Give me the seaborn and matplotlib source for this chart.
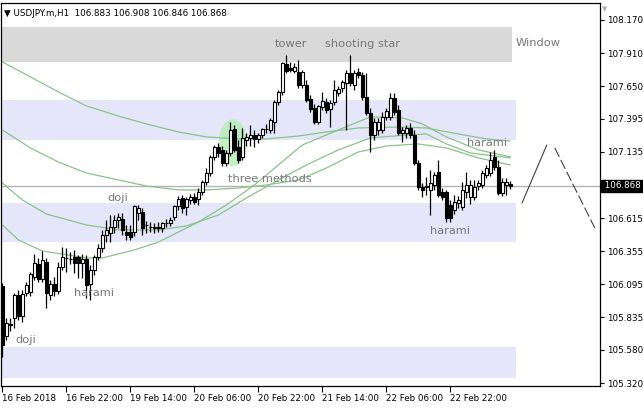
import matplotlib
matplotlib.use("Agg")
import matplotlib.pyplot as plt
import matplotlib.transforms as mtransforms
from matplotlib.patches import Ellipse
import numpy as np
import seaborn as sns

# hourly candles, USDJPY H1, 16 Feb 2018 06:00 onwards
opens = [106.082, 105.689, 105.776, 105.831, 106.011, 105.846, 106.027, 106.035, 106.153, 106.255,
         106.137, 106.270, 106.011, 106.098, 106.043, 106.231, 106.304, 106.296, 106.310, 106.310,
         106.262, 106.294, 106.098, 106.208, 106.310, 106.380, 106.482, 106.498, 106.545, 106.600,
         106.608, 106.506, 106.506, 106.506, 106.655, 106.663, 106.561, 106.545, 106.545, 106.537,
         106.537, 106.576, 106.576, 106.624, 106.710, 106.773, 106.702, 106.757, 106.781, 106.765,
         106.820, 106.898, 106.969, 107.095, 107.173, 107.150, 107.047, 107.126, 107.314, 107.173,
         107.095, 107.228, 107.244, 107.267, 107.236, 107.267, 107.314, 107.307, 107.369, 107.526,
         107.605, 107.825, 107.793, 107.770, 107.762, 107.660, 107.660, 107.550, 107.479, 107.369,
         107.487, 107.526, 107.471, 107.526, 107.597, 107.636, 107.675, 107.754, 107.660, 107.762,
         107.738, 107.566, 107.440, 107.267, 107.307, 107.307, 107.409, 107.409, 107.558, 107.464,
         107.283, 107.283, 107.322, 107.267, 107.047, 106.859, 106.859, 106.836, 106.875, 106.977,
         106.820, 106.820, 106.718, 106.679, 106.733, 106.702, 106.820, 106.781, 106.781, 106.867,
         106.875, 106.953, 106.969, 107.095, 107.016, 106.812, 106.875, 106.883]
highs = [106.105, 105.831, 105.831, 106.027, 106.051, 106.051, 106.113, 106.192, 106.333, 106.302,
         106.357, 106.302, 106.129, 106.153, 106.270, 106.388, 106.380, 106.349, 106.365, 106.325,
         106.333, 106.325, 106.247, 106.325, 106.412, 106.522, 106.600, 106.639, 106.639, 106.655,
         106.655, 106.561, 106.561, 106.718, 106.718, 106.694, 106.592, 106.584, 106.576, 106.584,
         106.584, 106.608, 106.624, 106.718, 106.788, 106.796, 106.781, 106.804, 106.812, 106.851,
         106.914, 107.008, 107.110, 107.189, 107.204, 107.181, 107.150, 107.369, 107.346, 107.228,
         107.322, 107.283, 107.346, 107.307, 107.283, 107.322, 107.354, 107.401, 107.542, 107.621,
         107.840, 107.895, 107.840, 107.832, 107.856, 107.778, 107.699, 107.581, 107.511, 107.503,
         107.605, 107.558, 107.542, 107.699, 107.652, 107.699, 107.778, 107.895, 107.778, 107.793,
         107.762, 107.754, 107.479, 107.401, 107.401, 107.448, 107.479, 107.597, 107.597, 107.503,
         107.330, 107.346, 107.361, 107.307, 107.071, 106.890, 106.938, 106.993, 106.977, 107.071,
         106.851, 106.836, 106.757, 106.796, 106.788, 106.898, 106.977, 106.914, 106.914, 106.914,
         106.993, 107.032, 107.134, 107.150, 107.071, 106.930, 106.930, 106.908]
lows = [105.525, 105.658, 105.729, 105.752, 105.815, 105.799, 106.003, 106.003, 106.129, 106.113,
        106.113, 105.909, 105.972, 106.003, 106.019, 106.208, 106.192, 106.255, 106.184, 106.145,
        106.145, 105.988, 105.972, 106.168, 106.286, 106.349, 106.427, 106.427, 106.498, 106.537,
        106.482, 106.443, 106.443, 106.474, 106.600, 106.482, 106.498, 106.506, 106.498, 106.506,
        106.506, 106.545, 106.553, 106.600, 106.679, 106.655, 106.639, 106.726, 106.726, 106.718,
        106.796, 106.875, 106.945, 107.071, 107.095, 107.024, 107.024, 107.102, 107.134, 107.047,
        107.071, 107.181, 107.181, 107.173, 107.204, 107.244, 107.283, 107.283, 107.283, 107.503,
        107.581, 107.754, 107.762, 107.754, 107.636, 107.636, 107.526, 107.448, 107.354, 107.354,
        107.464, 107.440, 107.330, 107.503, 107.573, 107.605, 107.307, 107.652, 107.621, 107.715,
        107.542, 107.424, 107.134, 107.228, 107.267, 107.283, 107.385, 107.385, 107.424, 107.267,
        107.212, 107.244, 107.244, 107.032, 106.836, 106.781, 106.796, 106.639, 106.836, 106.781,
        106.757, 106.584, 106.584, 106.647, 106.694, 106.679, 106.773, 106.726, 106.757, 106.836,
        106.851, 106.930, 106.945, 106.993, 106.796, 106.788, 106.796, 106.846]
closes = [105.619, 105.791, 105.784, 106.011, 105.846, 106.019, 106.090, 106.176, 106.262, 106.137,
          106.286, 106.027, 106.098, 106.043, 106.231, 106.310, 106.302, 106.294, 106.262, 106.262,
          106.294, 106.090, 106.208, 106.310, 106.380, 106.482, 106.522, 106.545, 106.600, 106.624,
          106.522, 106.482, 106.467, 106.710, 106.694, 106.537, 106.559, 106.543, 106.537, 106.545,
          106.576, 106.578, 106.600, 106.710, 106.765, 106.694, 106.765, 106.781, 106.741, 106.820,
          106.898, 106.969, 107.095, 107.173, 107.126, 107.047, 107.126, 107.307, 107.150, 107.071,
          107.244, 107.252, 107.267, 107.236, 107.267, 107.314, 107.316, 107.385, 107.526, 107.605,
          107.832, 107.770, 107.778, 107.801, 107.660, 107.762, 107.542, 107.471, 107.369, 107.495,
          107.534, 107.464, 107.518, 107.621, 107.628, 107.683, 107.754, 107.675, 107.754, 107.738,
          107.566, 107.440, 107.267, 107.369, 107.369, 107.409, 107.456, 107.558, 107.448, 107.283,
          107.307, 107.322, 107.267, 107.047, 106.859, 106.836, 106.867, 106.890, 106.953, 106.796,
          106.781, 106.616, 106.616, 106.741, 106.757, 106.836, 106.875, 106.875, 106.859, 106.890,
          106.969, 107.008, 107.071, 107.016, 106.812, 106.898, 106.898, 106.868]

time_label_bars = [0, 16, 32, 48, 64, 80, 96, 112]
time_labels = ["16 Feb 2018", "16 Feb 22:00", "19 Feb 14:00", "20 Feb 06:00",
               "20 Feb 22:00", "21 Feb 14:00", "22 Feb 06:00", "22 Feb 22:00"]
price_ticks = [108.170, 107.910, 107.650, 107.395, 107.135, 106.615,
               106.355, 106.095, 105.835, 105.580, 105.320]
last_price = 106.868
title_text = "\u25bc USDJPY.m,H1  106.883 106.908 106.846 106.868"

# moving averages at a few bars
ma_a_bars = [0, 7, 14, 21, 29, 36, 44, 51, 59, 66, 74, 81, 89, 99, 106, 114, 121, 127]
ma_a = [107.840, 107.723, 107.605, 107.495, 107.416, 107.354, 107.291, 107.252, 107.236,
        107.236, 107.259, 107.291, 107.322, 107.330, 107.322, 107.275, 107.236, 107.220]
ma_b_bars = [0, 7, 14, 21, 29, 36, 44, 51, 59, 66, 74, 81, 89, 96, 104, 111, 119, 127]
ma_b = [107.307, 107.165, 107.055, 106.969, 106.914, 106.867, 106.836, 106.836, 106.851,
        106.875, 106.914, 107.008, 107.134, 107.181, 107.197, 107.165, 107.087, 107.032]
ma_c_bars = [0, 5, 11, 21, 29, 39, 46, 54, 61, 69, 76, 84, 92, 101, 106, 111, 117, 127]
ma_c = [106.890, 106.757, 106.647, 106.561, 106.522, 106.522, 106.553, 106.639, 106.773,
        106.914, 107.032, 107.150, 107.244, 107.267, 107.275, 107.197, 107.126, 107.087]
ma_d_bars = [0, 4, 10, 21, 25, 33, 39, 49, 56, 63, 69, 75, 84, 92, 100, 105, 111, 119, 127]
ma_d = [106.561, 106.443, 106.357, 106.302, 106.302, 106.365, 106.427, 106.584, 106.718,
        106.875, 107.032, 107.189, 107.307, 107.409, 107.401, 107.354, 107.252, 107.150, 107.095]

# price zones (top, bottom, last bar)
window_zone = (108.115, 107.840, 127)
blue_zones_top = [107.542, 106.733, 105.603]
blue_zones_bottom = [107.228, 106.427, 105.360]
blue_zone_end = 128

forecast_up_bars = [129.9, 136.1]
forecast_up = [106.733, 107.189]
forecast_down_bars = [138.1, 148.1]
forecast_down = [107.165, 106.537]

sns.set_theme(style="white")
plt.rcParams["font.family"] = ["DejaVu Sans"]

W, H = 643, 408
fig = plt.figure(figsize=(W / 100, H / 100), dpi=100)
ax = fig.add_axes([0.5 / W, (H - 386) / H, 599.5 / W, 383 / H])
ax.set_facecolor("white")

# zones
ax.fill_between([-1, window_zone[2] + 0.4], window_zone[1], window_zone[0],
                color="#d9d9d9", lw=0, zorder=0)
for top, bot in zip(blue_zones_top, blue_zones_bottom):
    ax.fill_between([-1, blue_zone_end + 0.4], bot, top, color="#e6e6fa", lw=0, zorder=0)

# highlight of three methods
ax.add_patch(Ellipse((57.6, 107.205), 7.0, 0.37, facecolor="#b4eeb4", edgecolor="none",
                     alpha=0.8, zorder=1))

# current price line
ax.axhline(last_price, color="#b4b4b4", lw=1, zorder=1)

# moving averages
ma_color = "#88c488"
for xs, ys in [(ma_a_bars, ma_a), (ma_b_bars, ma_b), (ma_c_bars, ma_c), (ma_d_bars, ma_d)]:
    sns.lineplot(x=xs, y=ys, ax=ax, color=ma_color, lw=0.9, legend=False, zorder=2)

# candles
x = np.arange(len(closes))
o = np.array(opens)
c = np.array(closes)
ax.vlines(x, lows, highs, color="black", lw=0.9, zorder=3)
up = c >= o
body_h = np.maximum(np.abs(c - o), 0.002)
body_b = np.minimum(o, c)
ax.bar(x[up], body_h[up], bottom=body_b[up], width=0.72, color="white",
       edgecolor="black", linewidth=0.8, zorder=4)
ax.bar(x[~up], body_h[~up], bottom=body_b[~up], width=0.72, color="black",
       edgecolor="black", linewidth=0.8, zorder=4)

# forecast sketch
ax.plot(forecast_up_bars, forecast_up, color="#404040", lw=0.8, zorder=3)
ax.plot(forecast_down_bars, forecast_down, color="#404040", lw=0.8,
        dashes=(9, 3), zorder=3)

# pattern labels
lab_kw = dict(color="#777777", fontsize=8.2, ha="center", va="center", zorder=5)
ax.text(72.2, 107.982, "tower", **lab_kw)
ax.text(89.9, 107.982, "shooting star", **lab_kw)
ax.text(133.9, 107.989, "Window", **lab_kw)
ax.text(121.2, 107.204, "harami", **lab_kw)
ax.text(66.9, 106.922, "three methods", **lab_kw)
ax.text(28.9, 106.773, "doji", **lab_kw)
ax.text(22.9, 106.027, "harami", **lab_kw)
ax.text(111.9, 106.514, "harami", **lab_kw)
ax.text(5.9, 105.658, "doji", **lab_kw)

ax.text(0.006, 0.985, title_text, transform=ax.transAxes, fontsize=6.3,
        color="black", ha="left", va="top", zorder=6)

ax.set_xlim(-0.475, 149.4)
ax.set_ylim(105.297, 108.303)

ax.yaxis.tick_right()
ax.set_yticks(price_ticks)
ax.set_yticklabels([f"{p:.3f}" for p in price_ticks])
ax.set_xticks(time_label_bars)
ax.set_xticklabels(time_labels)
for t in ax.get_xticklabels():
    t.set_horizontalalignment("left")
ax.tick_params(axis="y", direction="out", length=3, width=0.8, pad=2,
               labelsize=6.3, colors="black", right=True, left=False)
ax.tick_params(axis="x", direction="out", length=4, width=0.8, pad=2,
               labelsize=6.3, colors="black", bottom=True)
ax.set_xlabel("")
ax.set_ylabel("")
ax.grid(False)
for s in ax.spines.values():
    s.set_color("black")
    s.set_linewidth(0.9)

# last price tag on the price scale
trans = mtransforms.blended_transform_factory(ax.transAxes, ax.transData)
ax.text(1.0, last_price, " 106.868", transform=trans + mtransforms.ScaledTranslation(2 / 100, 0, fig.dpi_scale_trans),
        fontsize=6.3, color="white", ha="left", va="center", clip_on=False,
        bbox=dict(boxstyle="square,pad=0.15", fc="black", ec="black"))
ax.text(1.0, 1.0, "\u25bc", transform=ax.transAxes + mtransforms.ScaledTranslation(2 / 100, -6 / 100, fig.dpi_scale_trans),
        fontsize=5, color="#b0b0b0", ha="left", va="center", clip_on=False)

fig.savefig("out.png", dpi=100, facecolor="white")
